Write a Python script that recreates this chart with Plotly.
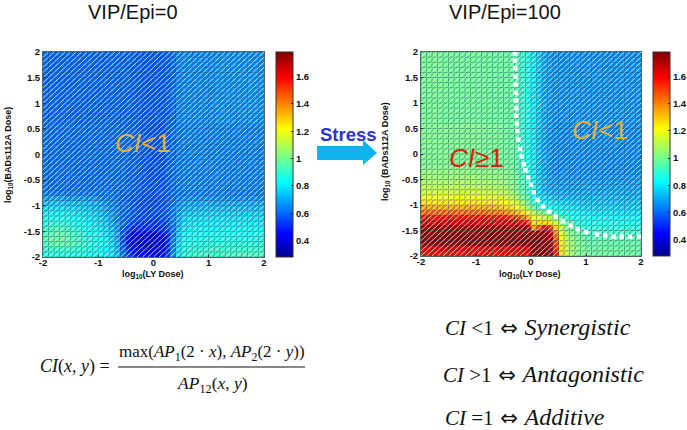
import plotly.graph_objects as go

W, H = 687, 430
edges = [round(-2 + 0.1 * i, 1) for i in range(41)]
y_ticks = [-2, -1.5, -1, -0.5, 0, 0.5, 1, 1.5, 2]
x_ticks = [-2, -1, 0, 1, 2]
cb_ticks = [0.4, 0.6, 0.8, 1, 1.2, 1.4, 1.6]
z_min, z_max = 0.28, 1.78
JET = [[0, "rgb(0,0,143)"], [0.11, "rgb(0,0,255)"], [0.365, "rgb(0,255,255)"], [0.625, "rgb(255,255,0)"],
       [0.875, "rgb(255,0,0)"], [1, "rgb(128,0,0)"]]

# ---- VIP/Epi = 0 : rows from bottom (y=-2) to top, 40 columns from x=-2
L_00 = [.87,.87,.87,.87,.87,.86,.86,.85,.85,.84, .83,.81,.78,.72,.62,.54,.48,.45,.44,.44, .44,.46,.52,.66,.78,.88,.90,.90,.90,.91, .91,.91,.91,.92,.92,.92,.92,.92,.92,.92]
L_01 = [.89,.90,.90,.90,.90,.89,.88,.87,.86,.85, .84,.82,.78,.71,.60,.51,.45,.42,.41,.41, .42,.44,.51,.65,.77,.86,.88,.88,.89,.89, .90,.90,.90,.90,.90,.90,.90,.90,.90,.90]
L_02 = [.93,.95,.96,.96,.95,.94,.92,.90,.88,.86, .84,.81,.77,.70,.58,.47,.40,.37,.36,.36, .38,.41,.50,.64,.76,.84,.85,.86,.86,.86, .87,.87,.87,.87,.87,.87,.87,.87,.87,.87]
L_03 = [.94,.97,.98,.98,.96,.94,.92,.89,.87,.85, .83,.80,.75,.68,.56,.47,.41,.38,.37,.37, .39,.42,.50,.63,.75,.83,.84,.85,.85,.85, .85,.85,.85,.85,.85,.85,.85,.85,.85,.85]
L_04 = [.92,.95,.96,.96,.94,.92,.90,.87,.85,.83, .81,.78,.74,.68,.58,.50,.45,.43,.42,.42, .43,.46,.51,.62,.73,.82,.83,.84,.84,.84, .84,.84,.84,.84,.84,.84,.84,.84,.84,.84]
L_05 = [.90,.92,.93,.93,.91,.89,.87,.85,.83,.81, .79,.76,.72,.66,.59,.54,.51,.50,.50,.50, .50,.52,.55,.61,.71,.80,.81,.82,.82,.82, .82,.82,.82,.82,.82,.82,.82,.82,.82,.82]
L_06 = [.87,.89,.89,.89,.87,.86,.84,.83,.81,.79, .77,.74,.70,.65,.61,.57,.55,.53,.52,.52, .52,.53,.56,.62,.70,.78,.79,.80,.80,.80, .80,.80,.80,.80,.80,.80,.80,.80,.80,.80]
L_07 = [.84,.85,.85,.85,.84,.83,.81,.80,.78,.77, .75,.72,.68,.64,.61,.59,.57,.56,.55,.55, .55,.56,.58,.63,.69,.76,.77,.78,.78,.78, .78,.78,.78,.78,.78,.78,.78,.78,.78,.78]
L_08 = [.80,.81,.81,.81,.80,.79,.78,.77,.76,.75, .73,.70,.67,.63,.61,.60,.58,.57,.56,.56, .56,.57,.59,.63,.68,.73,.74,.75,.75,.75, .75,.75,.75,.75,.75,.75,.75,.75,.75,.75]
L_09 = [.76,.77,.77,.77,.76,.76,.75,.74,.73,.72, .70,.68,.65,.63,.61,.60,.58,.57,.56,.56, .56,.57,.59,.63,.67,.70,.71,.72,.72,.72, .72,.72,.72,.72,.72,.72,.72,.72,.72,.72]
L_10 = [.72,.73,.73,.73,.72,.72,.72,.71,.71,.70, .68,.66,.64,.62,.61,.60,.58,.57,.56,.56, .56,.57,.59,.62,.65,.68,.69,.69,.69,.69, .69,.69,.69,.69,.69,.69,.69,.69,.69,.69]
L_11 = [.67,.68,.68,.68,.67,.67,.67,.66,.66,.65, .64,.63,.62,.61,.60,.59,.58,.57,.56,.56, .56,.57,.58,.61,.63,.65,.65,.65,.65,.65, .65,.65,.65,.65,.65,.65,.65,.65,.65,.65]
L_12 = [.62,.62,.62,.62,.62,.62,.62,.62,.62,.62, .62,.62,.62,.61,.60,.60,.59,.58,.57,.57, .57,.58,.59,.61,.62,.63,.63,.63,.63,.63, .63,.63,.63,.63,.63,.63,.63,.63,.63,.63]
L_TOP = [.61,.61,.61,.61,.61,.61,.61,.61,.61,.61, .61,.61,.61,.61,.61,.60,.60,.59,.58,.57, .57,.57,.59,.61,.63,.64,.64,.64,.64,.64, .64,.64,.64,.64,.64,.64,.64,.64,.64,.64]
L_UP = [.60,.60,.60,.60,.60,.60,.60,.60,.60,.60, .60,.60,.60,.60,.60,.60,.59,.59,.58,.58, .58,.58,.59,.61,.64,.65,.65,.65,.65,.65, .65,.66,.66,.66,.66,.66,.66,.66,.66,.66]
z_left = [L_00, L_01, L_02, L_03, L_04, L_05, L_06, L_07, L_08, L_09, L_10, L_11, L_12,
          L_TOP, L_TOP, L_TOP, L_TOP, L_TOP, L_TOP, L_TOP, L_TOP, L_TOP, L_TOP, L_TOP, L_TOP, L_TOP,
          L_UP, L_UP, L_UP, L_UP, L_UP, L_UP, L_UP, L_UP, L_UP, L_UP, L_UP, L_UP, L_UP, L_UP]

# ---- VIP/Epi = 100 : rows from bottom (y=-2) to top
R_00 = [1.58,1.58,1.58,1.58,1.58,1.58,1.58,1.58,1.58,1.58, 1.58,1.58,1.58,1.58,1.58,1.58,1.58,1.58,1.58,1.60, 1.75,1.75,1.75,1.74,1.55,1.26,1.13,1.06,1.02,1.00, .98,.98,.98,.98,.98,.98,.98,.98,.98,.98]
R_01 = [1.63,1.63,1.63,1.63,1.63,1.63,1.63,1.63,1.63,1.63, 1.63,1.63,1.63,1.63,1.63,1.63,1.63,1.63,1.63,1.65, 1.75,1.75,1.75,1.74,1.52,1.26,1.13,1.06,1.02,1.00, .98,.98,.98,.98,.98,.98,.98,.98,.98,.98]
R_02 = [1.75,1.75,1.75,1.75,1.75,1.75,1.75,1.75,1.75,1.75, 1.75,1.75,1.75,1.75,1.75,1.75,1.75,1.75,1.75,1.75, 1.75,1.75,1.75,1.74,1.50,1.24,1.12,1.05,1.01,.99, .97,.97,.97,.97,.97,.97,.97,.97,.97,.97]
R_03 = [1.76,1.76,1.76,1.76,1.76,1.76,1.76,1.76,1.76,1.76, 1.76,1.76,1.76,1.76,1.76,1.76,1.76,1.76,1.76,1.76, 1.75,1.75,1.75,1.72,1.46,1.22,1.10,1.04,1.00,.97, .95,.95,.95,.95,.95,.95,.95,.95,.95,.95]
R_04 = [1.75,1.75,1.75,1.75,1.75,1.75,1.75,1.75,1.75,1.75, 1.75,1.75,1.75,1.75,1.75,1.75,1.75,1.75,1.75,1.75, 1.72,1.74,1.74,1.66,1.40,1.18,1.06,1.01,.97,.94, .92,.92,.92,.92,.92,.92,.92,.92,.92,.92]
R_05 = [1.73,1.73,1.73,1.73,1.73,1.73,1.73,1.73,1.73,1.73, 1.73,1.73,1.73,1.73,1.73,1.73,1.73,1.73,1.73,1.72, 1.38,1.48,1.60,1.50,1.30,1.12,1.02,.97,.93,.90, .88,.88,.88,.88,.88,.88,.88,.88,.88,.88]
R_06 = [1.64,1.64,1.64,1.64,1.64,1.64,1.64,1.64,1.64,1.64, 1.64,1.64,1.64,1.64,1.64,1.64,1.64,1.64,1.60,1.50, 1.28,1.28,1.30,1.26,1.14,1.02,.95,.92,.88,.86, .85,.85,.85,.85,.85,.85,.85,.85,.85,.85]
R_07 = [1.57,1.57,1.57,1.57,1.57,1.57,1.57,1.57,1.57,1.57, 1.57,1.57,1.57,1.57,1.57,1.55,1.53,1.50,1.44,1.34, 1.20,1.18,1.14,1.08,1.00,.94,.90,.87,.85,.83, .82,.82,.82,.82,.82,.82,.82,.82,.82,.82]
R_08 = [1.45,1.45,1.45,1.45,1.45,1.45,1.45,1.45,1.45,1.45, 1.45,1.45,1.44,1.43,1.42,1.40,1.37,1.33,1.26,1.18, 1.10,1.05,1.00,.95,.90,.87,.84,.82,.80,.79, .78,.78,.78,.78,.78,.78,.78,.78,.78,.78]
R_09 = [1.36,1.36,1.36,1.36,1.36,1.36,1.36,1.36,1.36,1.36, 1.36,1.35,1.35,1.34,1.32,1.30,1.27,1.22,1.15,1.06, .98,.92,.88,.85,.82,.80,.79,.78,.77,.76, .75,.75,.75,.75,.75,.75,.75,.75,.75,.75]
R_10 = [1.26,1.26,1.26,1.26,1.26,1.26,1.26,1.26,1.26,1.26, 1.26,1.26,1.25,1.25,1.24,1.22,1.18,1.13,1.06,.97, .91,.85,.80,.79,.77,.76,.75,.74,.74,.73, .73,.73,.73,.73,.73,.73,.73,.73,.73,.73]
R_11 = [1.20,1.20,1.20,1.20,1.20,1.20,1.20,1.20,1.20,1.20, 1.20,1.19,1.19,1.18,1.17,1.15,1.11,1.06,1.00,.92, .85,.80,.77,.74,.72,.71,.71,.71,.71,.71, .71,.71,.71,.71,.71,.71,.71,.71,.71,.71]
R_12 = [1.16,1.16,1.16,1.16,1.16,1.16,1.16,1.16,1.16,1.16, 1.15,1.15,1.14,1.14,1.13,1.11,1.07,1.02,.97,.90, .83,.77,.72,.70,.69,.69,.69,.69,.69,.69, .69,.69,.69,.69,.69,.69,.69,.69,.69,.69]
R_13 = [1.12,1.12,1.12,1.12,1.12,1.12,1.12,1.12,1.12,1.12, 1.11,1.11,1.10,1.10,1.09,1.07,1.04,1.00,.95,.89, .82,.76,.71,.68,.68,.68,.68,.68,.68,.68, .68,.68,.68,.68,.68,.68,.68,.68,.68,.68]
R_14 = [1.09,1.09,1.09,1.09,1.09,1.09,1.09,1.09,1.09,1.09, 1.08,1.08,1.07,1.07,1.06,1.05,1.02,.99,.94,.88, .81,.75,.70,.67,.67,.67,.67,.67,.67,.67, .67,.67,.67,.67,.67,.67,.67,.67,.67,.67]
R_15 = [1.06,1.06,1.06,1.06,1.06,1.06,1.06,1.06,1.06,1.06, 1.05,1.05,1.05,1.04,1.04,1.03,1.01,.98,.93,.87, .80,.74,.70,.67,.66,.66,.66,.66,.66,.66, .66,.66,.66,.66,.66,.66,.66,.66,.66,.66]
R_16 = [1.04,1.04,1.04,1.04,1.04,1.04,1.04,1.04,1.04,1.03, 1.03,1.03,1.03,1.02,1.02,1.01,1.00,.97,.92,.86, .79,.73,.69,.66,.65,.65,.65,.65,.65,.65, .65,.65,.65,.65,.65,.65,.65,.65,.65,.65]
R_17 = [1.02,1.02,1.02,1.02,1.02,1.02,1.02,1.02,1.02,1.02, 1.02,1.02,1.01,1.01,1.01,1.00,.99,.96,.91,.85, .79,.73,.69,.66,.65,.65,.65,.65,.65,.65, .65,.65,.65,.65,.65,.65,.65,.65,.65,.65]
R_MID = [1.01,1.01,1.01,1.01,1.01,1.01,1.01,1.01,1.01,1.01, 1.01,1.00,1.00,1.00,1.00,.99,.98,.95,.90,.85, .79,.73,.69,.66,.65,.65,.65,.65,.65,.65, .65,.65,.65,.65,.65,.65,.65,.65,.65,.65]
R_TOP = [1.00,1.00,1.00,1.00,.99,.99,.99,.99,.99,.99, .99,.99,.98,.98,.98,.98,.97,.94,.90,.85, .79,.74,.69,.67,.66,.66,.66,.66,.66,.66, .66,.66,.66,.66,.66,.66,.66,.66,.66,.66]
z_right = [R_00, R_01, R_02, R_03, R_04, R_05, R_06, R_07, R_08, R_09, R_10, R_11, R_12, R_13, R_14, R_15, R_16, R_17,
           R_MID, R_MID, R_MID, R_MID, R_MID, R_MID, R_MID, R_MID,
           R_TOP, R_TOP, R_TOP, R_TOP, R_TOP, R_TOP, R_TOP, R_TOP, R_TOP, R_TOP, R_TOP, R_TOP, R_TOP, R_TOP]

# White dotted boundary CI = 1 in the right panel
curve_x = [-0.29,-0.29,-0.29,-0.28,-0.28,-0.28,-0.27,-0.27,-0.27,-0.26,-0.25,-0.23,-0.20,-0.17,-0.13,-0.10,-0.05,0.00,0.05,0.12,0.22,0.33,0.45,0.58,0.72,0.85,1.00,1.20,1.35,1.50,1.65,1.80,1.97]
curve_y = [1.97,1.83,1.68,1.52,1.36,1.20,1.05,0.90,0.75,0.60,0.45,0.28,0.10,-0.05,-0.20,-0.32,-0.46,-0.60,-0.75,-0.90,-1.03,-1.13,-1.23,-1.32,-1.40,-1.47,-1.53,-1.58,-1.60,-1.62,-1.62,-1.62,-1.62]

FONT = "Liberation Sans"
SERIF = "Liberation Serif"


def px(x):
    return x / W


def py(y):
    return 1 - y / H


def mesh_traces(xaxis, yaxis):
    gx, gy = [], []
    for e in edges:
        gx += [e, e, None, edges[0], edges[-1], None]
        gy += [edges[0], edges[-1], None, e, e, None]
    hx, hy = [], []
    for i in range(40):
        for j in range(40):
            hx += [edges[i], edges[i + 1], None]
            hy += [edges[j], edges[j + 1], None]
    return [
        go.Scatter(x=gx, y=gy, mode="lines", xaxis=xaxis, yaxis=yaxis, hoverinfo="skip", showlegend=False,
                   line=dict(color="rgba(10,60,70,0.42)", width=1)),
        go.Scatter(x=hx, y=hy, mode="lines", xaxis=xaxis, yaxis=yaxis, hoverinfo="skip", showlegend=False,
                   line=dict(color="rgba(255,255,255,0.75)", width=1)),
    ]


def heat(z, xaxis, yaxis, cb_left, top, bottom):
    return go.Heatmap(
        x=edges, y=edges, z=z, xaxis=xaxis, yaxis=yaxis, colorscale=JET, zmin=z_min, zmax=z_max,
        colorbar=dict(
            x=px(cb_left), xanchor="left", xpad=0, thickness=17, thicknessmode="pixels",
            y=py(bottom), yanchor="bottom", ypad=0, len=(bottom - top) / H, lenmode="fraction",
            tickvals=cb_ticks, ticktext=[str(v) for v in cb_ticks], ticks="inside", ticklen=2, tickcolor="#222",
            outlinewidth=1, outlinecolor="#333",
            tickfont=dict(family=FONT, size=9.5, color="#111", weight=700),
        ),
    )


fig = go.Figure()
fig.add_trace(heat(z_left, "x", "y", 276, 52, 257))
for t in mesh_traces("x", "y"):
    fig.add_trace(t)
fig.add_trace(heat(z_right, "x2", "y2", 653, 52, 256))
for t in mesh_traces("x2", "y2"):
    fig.add_trace(t)
fig.add_trace(go.Scatter(x=curve_x, y=curve_y, mode="markers", xaxis="x2", yaxis="y2", showlegend=False,
                         marker=dict(color="white", size=4.5, symbol="square")))

axis_style = dict(
    range=[-2, 2], showgrid=False, zeroline=False, showline=True, mirror=True, linecolor="#4a6a6a", linewidth=1,
    ticks="inside", ticklen=2, tickcolor="#222", tickfont=dict(family=FONT, size=9.5, color="#111", weight=700),
)
fig.update_layout(
    width=W, height=H, autosize=False, margin=dict(l=0, r=0, t=0, b=0, autoexpand=False), paper_bgcolor="white", plot_bgcolor="white",
    showlegend=False,
    xaxis=dict(domain=[px(43), px(264)], anchor="y", tickvals=x_ticks, ticktext=[str(v) for v in x_ticks], ticklabelstandoff=-3, **axis_style),
    yaxis=dict(domain=[py(257), py(52)], anchor="x", tickvals=y_ticks, ticktext=[str(v) for v in y_ticks], **axis_style),
    xaxis2=dict(domain=[px(421), px(641)], anchor="y2", tickvals=x_ticks, ticktext=[str(v) for v in x_ticks], ticklabelstandoff=-3, **axis_style),
    yaxis2=dict(domain=[py(256), py(52)], anchor="x2", tickvals=y_ticks, ticktext=[str(v) for v in y_ticks], **axis_style),
)


def note(text, x, y, size, color="#111", family=FONT, bold=False, angle=0, anchor="center"):
    fig.add_annotation(text=text, x=px(x), y=py(y), xref="paper", yref="paper", showarrow=False, xanchor=anchor,
                       yanchor="middle", textangle=angle,
                       font=dict(family=family, size=size, color=color, weight=700 if bold else 400))


note("VIP/Epi=0", 133, 12, 20)
note("VIP/Epi=100", 505, 12, 20)
note("log<sub>10</sub>(LY Dose)", 153, 274, 9, bold=True)
note("log<sub>10</sub>(LY Dose)", 530, 274, 9, bold=True)
note("log<sub>10</sub>(BADs112A Dose)", 8, 155, 9, bold=True, angle=-90)
note("log<sub>10</sub> (BADs112A Dose)", 385, 152, 9, bold=True, angle=-90)
note("<i>CI</i>&lt;1", 143, 143, 26, color="#E2B02E")
note("<i>CI</i>&lt;1", 600, 130, 26, color="#E2B02E")
note("<i>CI</i>≥1", 476, 158, 26, color="#D9230F")
note("Stress", 348, 134, 18.5, color="#2B35D0", bold=True)


def word(w):
    return f'<span style="font-size:24px"><i>{w}</i></span>'


ARROW = '<span style="font-family:DejaVu Sans;font-size:21px"> ⇔ </span>'
note("<i>CI</i>(<i>x</i>, <i>y</i>) =", 38, 366, 18, family=SERIF, anchor="left")
note("max(<i>AP</i><sub>1</sub>(2 · <i>x</i>), <i>AP</i><sub>2</sub>(2 · <i>y</i>))", 212, 353, 17, family=SERIF)
note("<i>AP</i><sub>12</sub>(<i>x</i>, <i>y</i>)", 212, 384, 17.5, family=SERIF)
note("<i>CI</i> &lt;1" + ARROW + word("Synergistic"), 443, 327, 21, family=SERIF, anchor="left")
note("<i>CI</i> &gt;1" + ARROW + word("Antagonistic"), 441, 374, 21, family=SERIF, anchor="left")
note("<i>CI</i> =1" + ARROW + word("Additive"), 443, 417, 21, family=SERIF, anchor="left")

fig.add_shape(type="line", xref="paper", yref="paper", x0=px(118), x1=px(305), y0=py(367), y1=py(367),
              line=dict(color="#111", width=1))
arrow = [(317, 146), (363, 146), (363, 140), (377, 153), (363, 165), (363, 160), (317, 160)]
path = "M " + " L ".join(f"{px(a):.4f},{py(b):.4f}" for a, b in arrow) + " Z"
fig.add_shape(type="path", xref="paper", yref="paper", path=path, fillcolor="#0DB4EC", line=dict(width=0))

fig.write_html("out.html", config={"displayModeBar": False},
               post_script="document.body.style.margin='0';document.documentElement.style.overflow='hidden';")
